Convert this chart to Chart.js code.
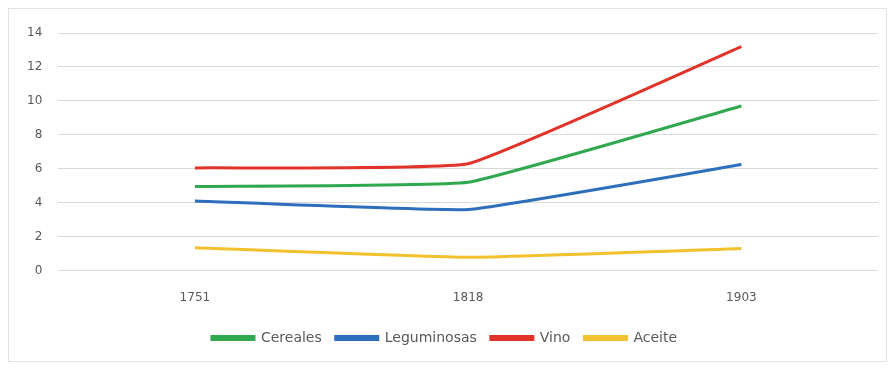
<!DOCTYPE html>
<html>
<head>
<meta charset="utf-8">
<script src="https://cdn.jsdelivr.net/npm/chart.js@4"></script>
<style>
  html, body { margin: 0; padding: 0; background: #fff; }
  #wrap { width: 895px; height: 368px; }
</style>
</head>
<body>
<div id="wrap"><canvas id="chart"></canvas></div>
<script>
const years = ['1751', '1818', '1903'];
const cereales = [4.95, 5.2, 9.7];
const leguminosas = [4.1, 3.6, 6.25];
const vino = [6.05, 6.3, 13.2];
const aceite = [1.35, 0.78, 1.3];
const yTicks = [0, 2, 4, 6, 8, 10, 12, 14];

const textColor = '#595959';
const tickFont = { family: 'DejaVu Sans', size: 12 };
const legendFont = { family: 'DejaVu Sans', size: 14 };

// light frame around the whole chart
const frame = {
  id: 'frame',
  beforeDraw(c) {
    const ctx = c.ctx;
    ctx.save();
    ctx.strokeStyle = '#e2e2e2';
    ctx.lineWidth = 1;
    ctx.strokeRect(8.5, 8.5, c.width - 17, c.height - 15);
    ctx.restore();
  }
};

function series(label, data, color) {
  return {
    label, data,
    borderColor: color,
    backgroundColor: color,
    borderWidth: 3,
    pointRadius: 0,
    tension: 0.1,
    fill: false
  };
}

new Chart(document.getElementById('chart'), {
  type: 'line',
  data: {
    labels: years,
    datasets: [
      series('Cereales', cereales, '#2fa84f'),
      series('Leguminosas', leguminosas, '#2d6ebd'),
      series('Vino', vino, '#e2332b'),
      series('Aceite', aceite, '#f2c12e')
    ]
  },
  plugins: [frame],
  options: {
    responsive: true,
    maintainAspectRatio: false,
    animation: false,
    layout: { padding: { left: 11, right: 17, top: 33, bottom: 13 } },
    plugins: {
      tooltip: { enabled: false },
      legend: {
        position: 'bottom',
        labels: {
          color: textColor,
          font: legendFont,
          boxWidth: 42,
          boxHeight: 3,
          padding: 14
        }
      }
    },
    scales: {
      x: {
        offset: true,
        grid: { display: false },
        border: { display: false },
        ticks: { color: textColor, font: tickFont, padding: 12 }
      },
      y: {
        min: 0,
        max: 14,
        afterBuildTicks: axis => { axis.ticks = yTicks.map(v => ({ value: v })); },
        grid: { color: '#d9d9d9', drawTicks: false },
        border: { display: false },
        ticks: { color: textColor, font: tickFont, padding: 16 }
      }
    }
  }
});
</script>
</body>
</html>
